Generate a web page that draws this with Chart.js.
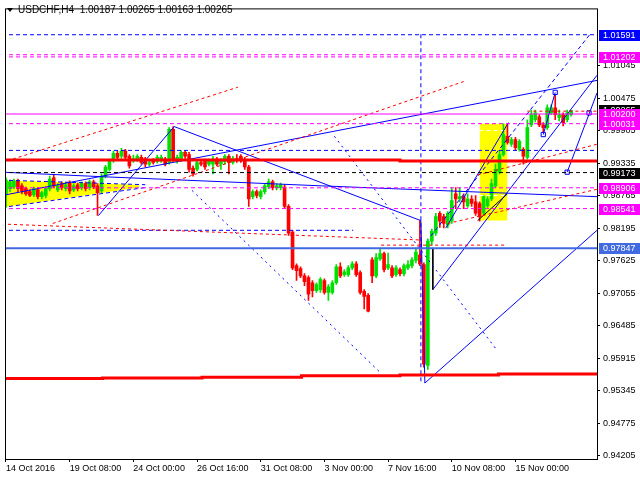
<!DOCTYPE html>
<html>
<head>
<meta charset="utf-8">
<title>USDCHF,H4</title>
<script src="https://cdn.jsdelivr.net/npm/chart.js@4.4.0/dist/chart.umd.min.js"></script>
<style>
  html, body { margin: 0; padding: 0; background: #fff; }
  #chart { display: block; }
</style>
</head>
<body>
<canvas id="chart" width="640" height="480"></canvas>
<script>
// H4 bars, one per 4 hours, starting 14 Oct 2016 16:00
const openPrices = [
  0.9880, 0.9889, 0.9892, 0.9903, 0.9894, 0.9889, 0.9884, 0.9878, 0.9887, 0.9875,
  0.9877, 0.9889, 0.9908, 0.9887, 0.9898, 0.9889, 0.9899, 0.9887, 0.9896, 0.9891,
  0.9898, 0.9891, 0.9901, 0.9894, 0.9885, 0.9911, 0.9923, 0.9939, 0.9951, 0.9946,
  0.9955, 0.9946, 0.9939, 0.9941, 0.9944, 0.9941, 0.9932, 0.9939, 0.9937, 0.9939,
  0.9941, 0.9935, 0.9993, 0.9937, 0.9941, 0.9953, 0.9949, 0.9925, 0.9923, 0.9935,
  0.9937, 0.9932, 0.9932, 0.9941, 0.9932, 0.9937, 0.9946, 0.9935, 0.9942, 0.9946,
  0.9939, 0.9927, 0.9875, 0.9884, 0.9875, 0.9884, 0.9892, 0.9901, 0.9891, 0.9891,
  0.9892, 0.9858, 0.9813, 0.9754, 0.9749, 0.9736, 0.9733, 0.9724, 0.9710, 0.9712,
  0.9728, 0.9707, 0.9707, 0.9724, 0.9752, 0.9738, 0.9738, 0.9750, 0.9757, 0.9742,
  0.9709, 0.9702, 0.9764, 0.9736, 0.9766, 0.9775, 0.9750, 0.9750, 0.9738, 0.9747,
  0.9740, 0.9750, 0.9754, 0.9763, 0.9773, 0.9756, 0.9579, 0.9797, 0.9811, 0.9846,
  0.9840, 0.9825, 0.9832, 0.9880, 0.9871, 0.9875, 0.9859, 0.9871, 0.9866, 0.9863,
  0.9846, 0.9859, 0.9871, 0.9894, 0.9918, 0.9949, 0.9981, 0.9967, 0.9975, 0.9958,
  0.9958, 0.9944, 1.0001, 1.0010, 1.0015, 1.0001, 0.9996, 1.0022, 1.0031, 1.0014,
  1.0019, 1.0010, 1.00187
];
const highPrices = [
  0.9908, 0.9904, 0.9906, 0.9906, 0.9898, 0.9892, 0.9887, 0.9892, 0.9891, 0.9885,
  0.9892, 0.9911, 0.9913, 0.9898, 0.9901, 0.9899, 0.9903, 0.9898, 0.9899, 0.9901,
  0.9901, 0.9904, 0.9904, 0.9898, 0.9915, 0.9930, 0.9941, 0.9955, 0.9955, 0.9960,
  0.9958, 0.9949, 0.9948, 0.9949, 0.9948, 0.9944, 0.9939, 0.9942, 0.9948, 0.9948,
  0.9944, 0.9996, 0.9998, 0.9948, 0.9956, 0.9956, 0.9953, 0.9929, 0.9939, 0.9939,
  0.9941, 0.9941, 0.9946, 0.9944, 0.9942, 0.9949, 0.9949, 0.9946, 0.9949, 0.9949,
  0.9944, 0.9930, 0.9887, 0.9887, 0.9887, 0.9898, 0.9906, 0.9904, 0.9898, 0.9899,
  0.9896, 0.9861, 0.9816, 0.9757, 0.9752, 0.9740, 0.9736, 0.9728, 0.9724, 0.9733,
  0.9731, 0.9721, 0.9728, 0.9756, 0.9759, 0.9747, 0.9754, 0.9761, 0.9761, 0.9745,
  0.9712, 0.9705, 0.9768, 0.9775, 0.9785, 0.9778, 0.9776, 0.9754, 0.9754, 0.9750,
  0.9757, 0.9763, 0.9768, 0.9785, 0.9833, 0.9759, 0.9801, 0.9818, 0.9846, 0.9849,
  0.9844, 0.9849, 0.9891, 0.9891, 0.9891, 0.9880, 0.9880, 0.9877, 0.9877, 0.9866,
  0.9878, 0.9875, 0.9906, 0.9932, 0.9955, 1.0003, 1.0003, 0.9979, 0.9979, 0.9975,
  0.9961, 1.0010, 1.0027, 1.0027, 1.0019, 1.0005, 1.0036, 1.0036, 1.0058, 1.0027,
  1.0022, 1.0027, 1.00265
];
const lowPrices = [
  0.9856, 0.9884, 0.9889, 0.9884, 0.9880, 0.9877, 0.9875, 0.9875, 0.9871, 0.9871,
  0.9873, 0.9885, 0.9891, 0.9884, 0.9887, 0.9885, 0.9880, 0.9884, 0.9885, 0.9887,
  0.9885, 0.9887, 0.9889, 0.9842, 0.9882, 0.9908, 0.9920, 0.9935, 0.9941, 0.9942,
  0.9939, 0.9925, 0.9935, 0.9937, 0.9932, 0.9927, 0.9929, 0.9932, 0.9934, 0.9935,
  0.9929, 0.9932, 0.9937, 0.9934, 0.9937, 0.9942, 0.9918, 0.9911, 0.9920, 0.9929,
  0.9923, 0.9929, 0.9915, 0.9929, 0.9923, 0.9932, 0.9915, 0.9932, 0.9935, 0.9935,
  0.9923, 0.9858, 0.9871, 0.9873, 0.9871, 0.9880, 0.9889, 0.9887, 0.9887, 0.9887,
  0.9854, 0.9807, 0.9747, 0.9728, 0.9733, 0.9719, 0.9693, 0.9699, 0.9707, 0.9707,
  0.9704, 0.9693, 0.9704, 0.9721, 0.9733, 0.9735, 0.9735, 0.9747, 0.9735, 0.9704,
  0.9678, 0.9673, 0.9724, 0.9733, 0.9763, 0.9743, 0.9747, 0.9733, 0.9735, 0.9736,
  0.9736, 0.9747, 0.9750, 0.9759, 0.9754, 0.9576, 0.9572, 0.9790, 0.9807, 0.9821,
  0.9820, 0.9820, 0.9828, 0.9854, 0.9866, 0.9854, 0.9856, 0.9858, 0.9842, 0.9832,
  0.9842, 0.9856, 0.9868, 0.9891, 0.9915, 0.9946, 0.9967, 0.9963, 0.9956, 0.9955,
  0.9932, 0.9941, 0.9998, 1.0006, 0.9998, 0.9984, 0.9993, 1.0019, 1.0010, 1.0008,
  0.9999, 1.0006, 1.00163
];
const closePrices = [
  0.9904, 0.9901, 0.9903, 0.9889, 0.9885, 0.9880, 0.9877, 0.9889, 0.9875, 0.9882,
  0.9889, 0.9906, 0.9894, 0.9894, 0.9891, 0.9896, 0.9885, 0.9894, 0.9889, 0.9898,
  0.9889, 0.9901, 0.9892, 0.9882, 0.9911, 0.9927, 0.9937, 0.9951, 0.9944, 0.9955,
  0.9944, 0.9929, 0.9942, 0.9946, 0.9935, 0.9932, 0.9935, 0.9935, 0.9944, 0.9944,
  0.9932, 0.9993, 0.9941, 0.9944, 0.9953, 0.9946, 0.9923, 0.9915, 0.9935, 0.9932,
  0.9927, 0.9937, 0.9941, 0.9932, 0.9939, 0.9946, 0.9935, 0.9942, 0.9939, 0.9941,
  0.9927, 0.9871, 0.9884, 0.9877, 0.9884, 0.9894, 0.9901, 0.9891, 0.9894, 0.9896,
  0.9858, 0.9811, 0.9750, 0.9745, 0.9736, 0.9726, 0.9704, 0.9710, 0.9721, 0.9730,
  0.9707, 0.9717, 0.9724, 0.9752, 0.9736, 0.9743, 0.9750, 0.9757, 0.9738, 0.9707,
  0.9700, 0.9674, 0.9736, 0.9768, 0.9775, 0.9747, 0.9756, 0.9736, 0.9750, 0.9740,
  0.9754, 0.9756, 0.9764, 0.9778, 0.9757, 0.9581, 0.9797, 0.9814, 0.9840, 0.9832,
  0.9828, 0.9846, 0.9868, 0.9871, 0.9875, 0.9866, 0.9871, 0.9863, 0.9846, 0.9840,
  0.9875, 0.9871, 0.9898, 0.9923, 0.9949, 0.9984, 0.9970, 0.9975, 0.9961, 0.9972,
  0.9946, 0.9996, 1.0019, 1.0022, 1.0001, 0.9996, 1.0031, 1.0031, 1.0019, 1.0019,
  1.0005, 1.0022, 1.00265
];

const symbolName = 'USDCHF,H4';
const xTickBars = [0, 16, 32, 48, 64, 80, 96, 112, 128];
const xTickLabels = ['14 Oct 2016', '19 Oct 08:00', '24 Oct 00:00', '26 Oct 16:00', '31 Oct 08:00',
  '3 Nov 00:00', '7 Nov 16:00', '10 Nov 08:00', '15 Nov 00:00'];
const yTickValues = [0.94205, 0.94775, 0.95345, 0.95915, 0.96485, 0.97055, 0.97625,
  0.98195, 0.98765, 0.99335, 0.99905, 1.00475, 1.01045];

// horizontal levels across the whole chart
const levelPrices = [1.01591, 1.0124, 1.01202, 1.00200, 1.00031, 0.99562, 0.99173, 0.98906, 0.98541, 0.97847];
const levelKinds = ['blueDash', 'magentaDash', 'magentaDash', 'magentaSolid', 'magentaDash',
  'blueDash', 'blackDash', 'magentaDash', 'magentaDash', 'royalSolid'];

// price tags on the right axis
const tagPrices = [1.01591, 1.01202, 1.00265, 1.00200, 1.00031, 0.99173, 0.98906, 0.98541, 0.97847];
const tagKinds = ['blue', 'magenta', 'black', 'magenta', 'magenta', 'black', 'magenta', 'magenta', 'royal'];

// stepped support / resistance lines [bar, price]
const upperRedSteps = [[-1, 0.99392], [99, 0.99375], [151, 0.99375]];
const lowerRedSteps = [[-1, 0.9556], [24.25, 0.9557], [49.25, 0.9558], [74.25, 0.9561],
  [99, 0.9562], [123.75, 0.9564], [151, 0.9564]];

// trend lines and channels [bar, price]
const trendPoints = [
  [[1.75, 0.9941], [58.25, 1.0067]],
  [[11.75, 0.9828], [115, 1.0077]],
  [[-1, 0.9827], [104.25, 0.9799]],
  [[94.25, 0.9790], [125.5, 0.9790]],
  [[111, 0.9828], [148.5, 0.9888]],
  [[118.5, 0.9913], [148.5, 0.9967]],
  [[131, 1.0025], [148.5, 1.0025]],
  [[-1, 0.9918], [24.25, 0.9910], [79.25, 0.9894], [111.75, 0.9885], [148.5, 0.9875]],
  [[-1, 0.9877], [148.5, 1.0079]],
  [[23.25, 0.9842], [42.25, 0.9998], [104.25, 0.9833], [105.25, 0.9548], [148.5, 0.9816]],
  [[46.75, 0.9886], [94.25, 0.9565]],
  [[82.5, 0.9981], [123, 0.9609]],
  [[104.25, 1.0160], [104.25, 0.9548]],
  [[-1, 0.9816], [87.25, 0.9816]],
  [[-1, 0.9904], [35, 0.9896]],
  [[-1, 0.9856], [35, 0.9891]],
  [[107.25, 0.9785], [107.25, 0.9712]],
  [[118.5, 0.9833], [126, 0.9880]],
  [[107.25, 0.9712], [148.5, 1.0088]],
  [[110.5, 0.9820], [126.25, 1.0005]],
  [[106.75, 0.9806], [146.75, 1.0160]],
  [[141, 0.9918], [148.5, 1.0057]],
  [[135, 0.9984], [138, 1.0058]],
  [[119, 0.9991], [126, 0.9991]],
  [[119, 0.9877], [126, 0.9877]],
];
const trendKinds = ['redDash', 'redDash', 'redDash', 'redDash', 'redDash', 'redDash', 'redDash',
  'blueThin', 'blueThin', 'blueThin', 'blueDot', 'blueDot', 'blueDash', 'blueDash', 'blueDash',
  'blueDash', 'blackSolid', 'blackSolid', 'blueThin', 'blueThin', 'blueDash', 'blueThin', 'blueThin',
  'whiteDash', 'whiteDash'];

// highlighted zones: top edge and bottom edge [bar, price]
const wedgeTop = [[-1, 0.9904], [33.5, 0.9896]];
const wedgeBottom = [[-1, 0.9856], [33.5, 0.9891]];
const boxTop = [[119, 1.0003], [126, 1.0003]];
const boxBottom = [[119, 0.9833], [126, 0.9833]];

// wave markers
const markerBars = [135, 138, 141, 146.5];
const markerPrices = [0.9984, 1.0058, 0.9918, 1.0022];

const lineStyles = {
  redDash: { color: '#ff0000', width: 1, dash: [3, 3] },
  blueThin: { color: '#0000ff', width: 1, dash: [] },
  blueDash: { color: '#0000ff', width: 1, dash: [4, 3] },
  blueDot: { color: '#0000ff', width: 1, dash: [2, 4] },
  magentaDash: { color: '#ff00ff', width: 1, dash: [4, 3] },
  magentaSolid: { color: '#ff00ff', width: 1, dash: [] },
  blackDash: { color: '#000000', width: 1, dash: [4, 3] },
  blackSolid: { color: '#000000', width: 1, dash: [] },
  whiteDash: { color: '#ffffff', width: 1, dash: [4, 3] },
  royalSolid: { color: '#4169e1', width: 2, dash: [] },
  redThick: { color: '#ff0000', width: 3, dash: [] },
};
const tagColours = { blue: '#0000ff', magenta: '#ff00ff', black: '#000000', royal: '#4169e1' };
const bullColour = '#00e000';
const bearColour = '#ff0000';
const axisFont = "'Liberation Sans', Arial, sans-serif";

function toPoints(pairs) {
  return pairs.map(([x, y]) => ({ x, y }));
}

function lineDataset(pairs, kind, extra = {}) {
  const style = lineStyles[kind];
  return {
    type: 'line',
    data: toPoints(pairs),
    borderColor: style.color,
    borderWidth: style.width,
    borderDash: style.dash,
    pointRadius: 0,
    fill: false,
    tension: 0,
    order: 0,
    ...extra,
  };
}

function zoneDatasets(top, bottom) {
  return [
    { type: 'line', data: toPoints(top), borderWidth: 0, pointRadius: 0,
      backgroundColor: '#ffff00', fill: '+1', order: 20 },
    { type: 'line', data: toPoints(bottom), borderWidth: 0, pointRadius: 0, fill: false, order: 20 },
  ];
}

const candleColours = closePrices.map((c, i) => (c >= openPrices[i] ? bullColour : bearColour));

const datasets = [
  ...zoneDatasets(wedgeTop, wedgeBottom),
  ...zoneDatasets(boxTop, boxBottom),
  {
    type: 'bar',
    data: lowPrices.map((low, i) => ({ x: i, y: [low, highPrices[i]] })),
    backgroundColor: candleColours,
    barThickness: 1,
    grouped: false,
    order: 11,
  },
  {
    type: 'bar',
    data: openPrices.map((o, i) => ({ x: i, y: [Math.min(o, closePrices[i]), Math.max(o, closePrices[i])] })),
    backgroundColor: candleColours,
    barThickness: 3,
    minBarLength: 1,
    grouped: false,
    order: 10,
  },
  ...levelPrices.map((p, i) => lineDataset([[-1, p], [151, p]], levelKinds[i])),
  lineDataset(upperRedSteps, 'redThick', { stepped: true }),
  lineDataset(lowerRedSteps, 'redThick', { stepped: true }),
  ...trendPoints.map((pts, i) => lineDataset(pts, trendKinds[i])),
  {
    type: 'line',
    data: markerBars.map((x, i) => ({ x, y: markerPrices[i] })),
    showLine: false,
    pointStyle: 'rect',
    pointRadius: 3,
    borderColor: '#0000ff',
    backgroundColor: '#ffffff',
    borderWidth: 1,
    order: 0,
  },
];

const terminalPlugin = {
  id: 'terminal',
  beforeDraw(chart) {
    const { ctx } = chart;
    ctx.save();
    ctx.fillStyle = '#ffffff';
    ctx.fillRect(0, 0, chart.width, chart.height);
    ctx.restore();
  },
  afterDraw(chart) {
    const { ctx, chartArea, scales } = chart;
    ctx.save();
    ctx.strokeStyle = '#000000';
    ctx.lineWidth = 1;
    ctx.setLineDash([]);
    ctx.strokeRect(chartArea.left + 0.5, chartArea.top + 0.5,
      chartArea.right - chartArea.left, chartArea.bottom - chartArea.top);

    // header with last bar
    const last = closePrices.length - 1;
    ctx.fillStyle = '#000000';
    ctx.beginPath();
    ctx.moveTo(7, 8);
    ctx.lineTo(13, 8);
    ctx.lineTo(10, 12);
    ctx.closePath();
    ctx.fill();
    ctx.font = `10px ${axisFont}`;
    ctx.textBaseline = 'middle';
    ctx.textAlign = 'left';
    const ohlc = [openPrices[last], highPrices[last], lowPrices[last], closePrices[last]]
      .map((v) => v.toFixed(5)).join(' ');
    ctx.fillText(`${symbolName}  ${ohlc}`, 18, 10.5);

    // price tags
    ctx.font = `9px ${axisFont}`;
    tagPrices.forEach((price, i) => {
      const y = Math.round(scales.y.getPixelForValue(price));
      ctx.fillStyle = tagColours[tagKinds[i]];
      ctx.fillRect(599, y - 5, chart.width - 599, 11);
      ctx.fillStyle = '#ffffff';
      ctx.fillText(price.toFixed(5), 603, y + 0.5);
    });
    ctx.restore();
  },
};

new Chart(document.getElementById('chart'), {
  type: 'line',
  data: { datasets },
  plugins: [terminalPlugin],
  options: {
    responsive: false,
    animation: false,
    devicePixelRatio: 1,
    layout: { padding: { left: 2, top: 2, right: 0, bottom: 0 } },
    plugins: { legend: { display: false }, tooltip: { enabled: false } },
    scales: {
      x: {
        type: 'linear',
        position: 'bottom',
        offset: false,
        min: -0.25,
        max: 148.5,
        border: { display: false },
        grid: { offset: false, drawOnChartArea: false, drawTicks: true, tickLength: 3, color: '#000000' },
        ticks: {
          autoSkip: false,
          maxRotation: 0,
          minRotation: 0,
          align: 'start',
          padding: 1,
          color: '#000000',
          font: { family: axisFont, size: 9 },
          callback: (value, index) => xTickLabels[index],
        },
        afterBuildTicks(scale) {
          scale.ticks = xTickBars.map((value) => ({ value }));
        },
        afterFit(scale) {
          scale.height = 21;
        },
      },
      y: {
        type: 'linear',
        position: 'right',
        min: 0.94148,
        max: 1.02053,
        border: { display: false },
        grid: { drawOnChartArea: false, drawTicks: true, tickLength: 3, color: '#000000' },
        ticks: {
          autoSkip: false,
          padding: 3,
          color: '#000000',
          font: { family: axisFont, size: 9 },
          callback: (value) => Number(value).toFixed(5),
        },
        afterBuildTicks(scale) {
          scale.ticks = yTickValues.map((value) => ({ value }));
        },
        afterFit(scale) {
          scale.width = 43;
        },
      },
    },
  },
});
</script>
</body>
</html>
